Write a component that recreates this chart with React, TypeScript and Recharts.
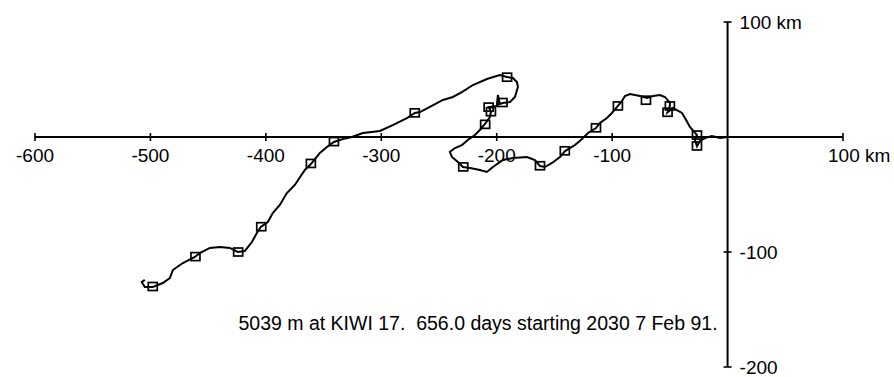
import { ScatterChart, Scatter, XAxis, YAxis, ReferenceLine, ReferenceDot } from 'recharts'

// float track in km east / north of the KIWI 17 launch point
const track: [number, number][] = [
  [0, 0], [-6.6, -0.9], [-13.5, 0.9], [-19.6, -0.9], [-24, -3.5], [-26.5, -8], [-28.5, -2],
  [-26.5, 1.7], [-32.6, 8.7], [-36.9, 16.5], [-39.5, 20.9], [-47.3, 25.2], [-52, 21.5], [-50, 27],
  [-49.9, 29.6], [-54.2, 34.8], [-58.6, 36.5], [-64.6, 35.7], [-69.8, 33.9], [-75.9, 35.7],
  [-84.6, 37.4], [-88.9, 35.7], [-91.5, 31.3], [-95, 27], [-100.2, 20.9], [-104.5, 16.5],
  [-110.6, 12.2], [-114, 7.8], [-120.9, 3.5], [-126.1, -1.7], [-132.2, -7], [-140.8, -12.2],
  [-145.2, -17.4], [-152.1, -22.6], [-158.2, -26.1], [-162.5, -25.2], [-166.9, -20],
  [-173.8, -17.4], [-186, -18.3], [-194.6, -20], [-203.3, -26.1], [-208.5, -30.4],
  [-214.6, -28.7], [-223.2, -27], [-229.3, -26.1], [-233.6, -21.7], [-238.8, -17.4],
  [-240.6, -13], [-236.2, -9.6], [-230.2, -7], [-225, -2.6], [-218.9, 1.7], [-214.6, 6.1],
  [-210.2, 11.3], [-205.9, 17.4], [-205, 21.7], [-206.8, 26.1], [-199.9, 27], [-199, 36.5],
  [-197.3, 28.7], [-194.6, 29.6], [-188.5, 30.4], [-184.2, 34.8], [-181.6, 43.5],
  [-182.5, 47.8], [-186, 51.3], [-191.2, 52.2], [-197.3, 53.9], [-208.5, 50.4],
  [-220.6, 45.2], [-230.2, 39.1], [-238, 34.8], [-246.6, 32.2], [-257.9, 26.1],
  [-266.5, 21.7], [-270.9, 20.9], [-277.8, 16.5], [-290, 10.4], [-301.2, 5.2],
  [-315.9, 3.5], [-325.5, 0], [-333.3, -1.7], [-341.1, -4.3], [-347.1, -8.7],
  [-353.2, -13.9], [-361, -23.5], [-366.2, -28.7], [-374.9, -41.7], [-381.8, -48.7],
  [-387.9, -59.1], [-394, -66.1], [-398.3, -73.9], [-404.4, -78.3], [-407.8, -83.5],
  [-412.1, -91.3], [-418.2, -99.1], [-424.3, -100], [-431.2, -96.5], [-439.9, -95.7],
  [-448.5, -96.5], [-457.2, -100.9], [-461.5, -104.3], [-471.9, -109.6], [-480.6, -115.7],
  [-483.2, -122.6], [-489.3, -127], [-497.9, -130.4], [-504.9, -130.4], [-507.5, -126.1],
  [-504.9, -124.3],
]

// square markers along the track
const marks: [number, number][] = [
  [-26.5, 1.7], [-26.5, -7.8], [-50, 27], [-52, 21.5], [-70.7, 32], [-95, 27], [-114, 8],
  [-141, -12], [-162.5, -25], [-229, -26], [-210, 11], [-207, 26], [-205, 22], [-195, 30],
  [-191, 52], [-271, 21], [-341, -4], [-361, -23], [-404, -78], [-424, -100], [-461, -104],
  [-498, -130],
]

const xTicks = [-600, -500, -400, -300, -200, -100, 100]
const yTicks = [100, -100, -200]
const caption = '5039 m at KIWI 17.  656.0 days starting 2030 7 Feb 91.'

const font = '"Liberation Sans", Arial, Helvetica, sans-serif'

const trackData = track.map(([x, y]) => ({ x, y }))
const markData = marks.map(([x, y]) => ({ x, y }))

const Square = (p: any) => (
  <rect x={p.cx - 4.5} y={p.cy - 4} width={9} height={8} fill="none" stroke="#000" strokeWidth={1.7} />
)

const XTick = (v: number) => (p: any) => (
  <g>
    <line x1={p.cx} x2={p.cx} y1={p.cy - 4} y2={p.cy + 4} stroke="#000" strokeWidth={1.6} />
    {v === 100 ? (
      <text x={p.cx - 15} y={p.cy + 25} fontSize={19} fontFamily={font} fill="#000">100 km</text>
    ) : (
      <text x={p.cx} y={p.cy + 25} textAnchor="middle" fontSize={19} fontFamily={font} fill="#000">{v}</text>
    )}
  </g>
)

const YTick = (v: number) => (p: any) => (
  <g>
    <line x1={p.cx - 4} x2={p.cx + 4} y1={p.cy} y2={p.cy} stroke="#000" strokeWidth={1.6} />
    <text x={p.cx + 12} y={p.cy + 7} fontSize={19} fontFamily={font} fill="#000">
      {v === 100 ? '100 km' : v}
    </text>
  </g>
)

export default function App() {
  return (
    <div style={{ position: 'absolute', left: 0, top: 0, width: 894, height: 377, background: '#fff' }}>
      <ScatterChart width={894} height={377} margin={{ top: 22, right: 51, bottom: 10, left: 35 }}>
        <XAxis type="number" dataKey="x" domain={[-600, 100]} hide />
        <YAxis type="number" dataKey="y" domain={[-200, 100]} hide />
        <ReferenceLine segment={[{ x: -600, y: 0 }, { x: 100, y: 0 }]} stroke="#000" strokeWidth={1.8} ifOverflow="visible" />
        <ReferenceLine segment={[{ x: 0, y: -200 }, { x: 0, y: 100 }]} stroke="#000" strokeWidth={2} ifOverflow="visible" />
        {xTicks.map(v => (
          <ReferenceDot key={'x' + v} x={v} y={0} ifOverflow="visible" shape={XTick(v)} />
        ))}
        {yTicks.map(v => (
          <ReferenceDot key={'y' + v} x={0} y={v} ifOverflow="visible" shape={YTick(v)} />
        ))}
        <Scatter data={trackData} line={{ stroke: '#000', strokeWidth: 2 }} shape={() => <g />} isAnimationActive={false} />
        <Scatter data={markData} shape={Square} isAnimationActive={false} />
      </ScatterChart>
      <div style={{ position: 'absolute', left: 0, width: 956, top: 312, textAlign: 'center', fontFamily: font, fontSize: 19.5, lineHeight: '22px', color: '#000', whiteSpace: 'pre' }}>
        {caption}
      </div>
    </div>
  )
}
